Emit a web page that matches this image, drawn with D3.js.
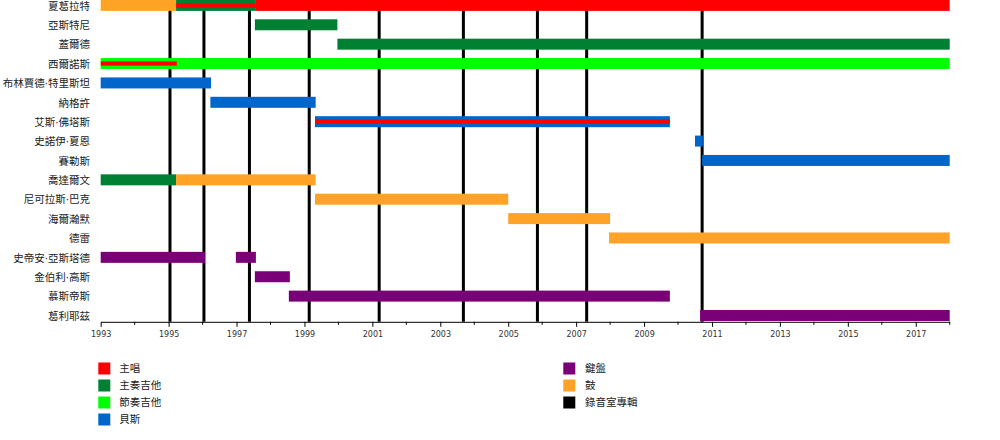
<!DOCTYPE html>
<html><head><meta charset="utf-8">
<script src="https://cdn.jsdelivr.net/npm/d3@7"></script>
<style>
html,body{margin:0;padding:0;background:#fff;}
svg{display:block;}
text{font-family:"DejaVu Sans","Noto Sans CJK TC","Noto Sans CJK SC",sans-serif;}
</style></head>
<body><svg id="chart" width="1000" height="440"></svg>
<script>
const members = ["夏葛拉特","亞斯特尼","蓋爾德","西爾諾斯","布林賈德·特里斯坦","納格許","艾斯·佛塔斯","史諾伊·夏恩","賽勒斯","喬達爾文","尼可拉斯·巴克","海爾瀚默","德雷","史帝安·亞斯塔德","金伯利·高斯","慕斯帝斯","葛利耶茲"];
const roles = ["主唱","主奏吉他","節奏吉他","貝斯","鍵盤","鼓","錄音室專輯"];
const roleColors = ["#ff0000","#008033","#00ff00","#0066cc","#7a0078","#ffa326","#000000"];
// [member, start, end, role]
const bars = [
  ["夏葛拉特",1993,1995.22,"鼓"],
  ["夏葛拉特",1995.22,1997.57,"主奏吉他"],
  ["夏葛拉特",1997.57,2018,"主唱"],
  ["亞斯特尼",1997.54,1999.97,"主奏吉他"],
  ["蓋爾德",1999.97,2018,"主奏吉他"],
  ["西爾諾斯",1993,2018,"節奏吉他"],
  ["布林賈德·特里斯坦",1993,1996.25,"貝斯"],
  ["納格許",1996.23,1999.33,"貝斯"],
  ["艾斯·佛塔斯",1999.31,2009.76,"貝斯"],
  ["史諾伊·夏恩",2010.50,2010.73,"貝斯"],
  ["賽勒斯",2010.71,2018,"貝斯"],
  ["喬達爾文",1993,1995.22,"主奏吉他"],
  ["喬達爾文",1995.22,1999.33,"鼓"],
  ["尼可拉斯·巴克",1999.31,2005.0,"鼓"],
  ["海爾瀚默",2005.0,2008.0,"鼓"],
  ["德雷",2007.97,2018,"鼓"],
  ["史帝安·亞斯塔德",1993,1996.07,"鍵盤"],
  ["史帝安·亞斯塔德",1996.98,1997.57,"鍵盤"],
  ["金伯利·高斯",1997.54,1998.57,"鍵盤"],
  ["慕斯帝斯",1998.54,2009.76,"鍵盤"],
  ["葛利耶茲",2010.65,2018,"鍵盤"]
];
// secondary role stripes [member, start, end, role]
const stripes = [
  ["夏葛拉特",1995.22,1997.57,"主唱"],
  ["西爾諾斯",1993,1995.24,"主唱"],
  ["艾斯·佛塔斯",1999.31,2009.76,"主唱"]
];
const albums = [1995.04,1996.04,1997.38,1999.14,2001.20,2003.68,2005.86,2007.31,2010.71];
const majorTicks = [1993,1995,1997,1999,2001,2003,2005,2007,2009,2011,2013,2015,2017];
const minorTicks = [1994,1996,1998,2000,2002,2004,2006,2008,2010,2012,2014,2016,2018];

const svg = d3.select("#chart");
const x = d3.scaleLinear().domain([1993,2018]).range([100.7,949.7]);
const y = d3.scalePoint().domain(members).range([5.4,315.5]);
const color = d3.scaleOrdinal().domain(roles).range(roleColors);
const barH = 11, stripeH = 4.2, axisY = 321.8;

// album lines (behind bars)
svg.append("g").selectAll("line").data(albums).join("line")
  .attr("x1",d=>x(d)).attr("x2",d=>x(d))
  .attr("y1",0).attr("y2",axisY)
  .attr("stroke","#000").attr("stroke-width",3);

svg.append("g").selectAll("rect").data(bars).join("rect")
  .attr("x",d=>x(d[1])).attr("width",d=>x(d[2])-x(d[1]))
  .attr("y",d=>y(d[0])-barH/2).attr("height",barH)
  .attr("fill",d=>color(d[3]));

svg.append("g").selectAll("rect").data(stripes).join("rect")
  .attr("x",d=>x(d[1])).attr("width",d=>x(d[2])-x(d[1]))
  .attr("y",d=>y(d[0])-stripeH/2).attr("height",stripeH)
  .attr("fill",d=>color(d[3]));

// member labels
svg.append("g").selectAll("text").data(members).join("text")
  .attr("x",90).attr("y",d=>y(d)).attr("dy","0.4em")
  .attr("text-anchor","end").attr("font-size","10.5px").attr("fill","#222")
  .text(d=>d);

// axis
const axisG = svg.append("g").attr("transform",`translate(0,${axisY})`);
axisG.call(d3.axisBottom(x).tickValues(majorTicks).tickFormat(d3.format("d")).tickSize(5).tickSizeOuter(0))
  .call(g=>g.select(".domain").attr("stroke","#000"))
  .call(g=>g.selectAll(".tick text").attr("font-family","DejaVu Sans").attr("font-size","8px").attr("fill","#333").attr("y",10));
axisG.append("g").selectAll("line").data(minorTicks).join("line")
  .attr("x1",d=>x(d)).attr("x2",d=>x(d)).attr("y1",0).attr("y2",3)
  .attr("stroke","#000");

// legend
const legCols = [[0,1,2,3],[4,5,6]];
const legX = [98.3,563.3], legTextX = [119.3,585];
legCols.forEach((col,ci)=>{
  const g = svg.append("g");
  g.selectAll("rect").data(col).join("rect")
    .attr("x",legX[ci]).attr("y",(d,i)=>362.5+i*17).attr("width",12).attr("height",12)
    .attr("fill",d=>roleColors[d]);
  g.selectAll("text").data(col).join("text")
    .attr("x",legTextX[ci]).attr("y",(d,i)=>368.5+i*17).attr("dy","0.36em")
    .attr("font-size","10.5px").attr("fill","#222")
    .text(d=>roles[d]);
});
</script></body></html>
